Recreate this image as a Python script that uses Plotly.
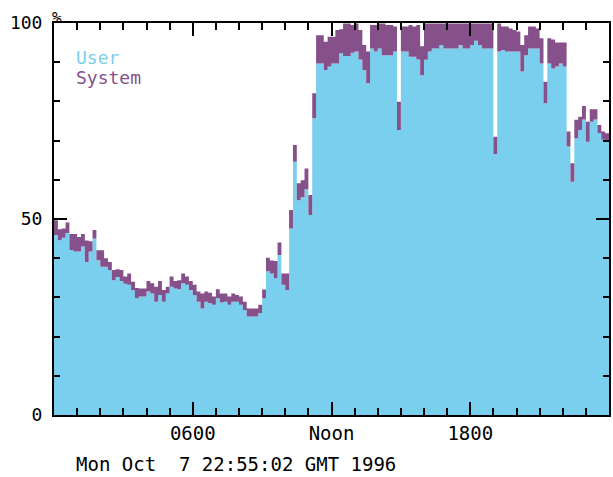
import plotly.graph_objects as go

# 10-minute samples over the day (144 samples)
user = [45.9, 44.6, 45.2, 46.4, 42.1, 41.7, 41.7, 43.0, 39.0, 41.7, 45.0, 39.5,
        37.8, 37.8, 37.0, 34.4, 35.2, 34.2, 33.5, 33.2, 31.8, 29.8, 30.2, 30.2,
        31.5, 31.0, 28.9, 30.6, 28.9, 31.0, 32.7, 32.3, 32.1, 33.6, 33.2, 31.9,
        30.6, 28.9, 27.2, 28.9, 28.5, 28.1, 29.8, 28.7, 28.9, 28.1, 28.9, 28.9,
        28.1, 26.8, 25.1, 25.1, 25.1, 26.0, 29.8, 36.7, 36.1, 34.9, 40.8, 33.2,
        31.9, 47.6, 64.6, 54.8, 55.6, 57.6, 51.0, 75.7, 89.7, 89.7, 88.0, 88.9,
        89.7, 89.7, 92.3, 91.6, 91.6, 92.4, 92.7, 90.7, 88.0, 84.6, 93.5, 92.7,
        93.5, 91.8, 91.8, 91.8, 92.7, 72.7, 92.7, 92.7, 91.4, 91.4, 90.7, 86.7,
        90.6, 92.7, 93.5, 93.5, 94.4, 93.5, 93.5, 93.5, 93.5, 94.4, 93.5, 93.5,
        94.4, 95.5, 94.4, 93.5, 93.5, 93.5, 66.6, 92.7, 93.1, 92.7, 92.7, 92.7,
        92.7, 87.6, 91.8, 93.5, 93.5, 93.5, 89.7, 79.5, 89.7, 88.4, 88.9, 89.7,
        88.9, 68.5, 59.5, 70.6, 72.7, 75.4, 69.7, 74.8, 75.4, 71.9, 70.2, 69.7]

system = [3.8, 2.8, 2.4, 2.7, 4.1, 4.5, 3.7, 3.2, 5.5, 2.6, 2.2, 2.5,
          4.2, 2.2, 2.0, 2.6, 2.0, 2.8, 1.8, 2.9, 2.2, 2.6, 2.1, 2.1,
          2.7, 2.6, 3.8, 3.6, 3.0, 1.7, 2.6, 1.9, 2.3, 2.5, 2.1, 2.3,
          2.6, 2.6, 3.8, 2.6, 2.7, 2.1, 2.3, 2.3, 2.1, 2.1, 2.1, 1.7,
          2.1, 2.1, 2.1, 2.1, 2.1, 2.1, 2.2, 3.4, 3.3, 4.4, 3.2, 2.9,
          4.2, 4.7, 4.3, 4.3, 4.3, 5.3, 5.1, 6.4, 7.2, 7.2, 7.2, 7.6,
          6.8, 8.5, 6.1, 8.3, 8.3, 7.1, 7.2, 7.5, 6.4, 8.1, 6.0, 6.8,
          6.4, 8.1, 7.7, 7.7, 6.4, 7.2, 6.4, 6.4, 8.1, 7.7, 8.8, 7.4,
          9.3, 7.2, 6.4, 6.4, 5.5, 6.4, 6.4, 6.4, 6.4, 5.5, 6.4, 6.4,
          5.5, 4.4, 5.5, 6.4, 6.4, 6.4, 4.4, 7.2, 6.0, 6.4, 5.9, 5.5,
          5.1, 6.8, 5.1, 5.6, 5.6, 5.1, 6.4, 5.5, 6.4, 7.4, 6.1, 5.3,
          6.1, 3.8, 4.7, 4.7, 3.4, 3.4, 5.1, 3.2, 2.6, 2.1, 2.1, 2.2]

tick_hours = [0, 6, 12, 18, 24]
tick_labels = ["", "0600", "Noon", "1800", ""]
series_names = ["User", "System"]
stamp = "Mon Oct \u00a07 22:55:02 GMT 1996"

USER_C = "#7acfee"
SYS_C = "#86508a"
FONT = "DejaVu Sans Mono"

hours = [i / 6 for i in range(len(user))] + [24]
u_vals = user + [user[-1]]
s_vals = system + [system[-1]]

fig = go.Figure()
fig.add_trace(go.Scatter(x=hours, y=u_vals, name=series_names[0], stackgroup="one",
                         mode="lines", line=dict(shape="hv", width=0, color=USER_C),
                         fillcolor=USER_C))
fig.add_trace(go.Scatter(x=hours, y=s_vals, name=series_names[1], stackgroup="one",
                         mode="lines", line=dict(shape="hv", width=0, color=SYS_C),
                         fillcolor=SYS_C))

fig.update_layout(
    width=613, height=477,
    margin=dict(l=54, r=2, t=23, b=62),
    paper_bgcolor="white", plot_bgcolor="white",
    showlegend=False,
    font=dict(family=FONT, size=18, color="black"),
)
fig.update_xaxes(
    range=[0, 24], showgrid=False, zeroline=False,
    tickmode="linear", tick0=0, dtick=6,
    labelalias={str(h): t for h, t in zip(tick_hours, tick_labels)},
    ticks="inside", ticklen=13, tickwidth=2, tickcolor="black",
    minor=dict(tick0=0, dtick=1, ticks="inside", ticklen=7, tickwidth=2,
               tickcolor="black", showgrid=False),
    showline=True, linecolor="black", linewidth=2, mirror="allticks",
    tickfont=dict(family=FONT, size=19, color="black"),
)
fig.update_yaxes(
    range=[0, 100], showgrid=False, zeroline=False,
    tickmode="linear", tick0=0, dtick=50,
    ticks="inside", ticklen=13, tickwidth=2, tickcolor="black",
    minor=dict(tick0=0, dtick=10, ticks="inside", ticklen=6, tickwidth=2,
               tickcolor="black", showgrid=False),
    showline=True, linecolor="black", linewidth=2, mirror="allticks",
    tickfont=dict(family=FONT, size=18, color="black"),
    ticklabelstandoff=6,
)

fig.add_annotation(text="%", xref="paper", yref="paper", x=0, y=1, xanchor="left", yanchor="bottom",
                   showarrow=False, font=dict(family=FONT, size=16, color="black"), xshift=-4, yshift=-6)
fig.add_annotation(text=series_names[0], xref="paper", yref="paper", x=(74 - 54) / 557, y=(415 - 57) / 392,
                   xanchor="left", yanchor="middle", showarrow=False,
                   font=dict(family=FONT, size=18, color=USER_C))
fig.add_annotation(text=series_names[1], xref="paper", yref="paper", x=(74 - 54) / 557, y=(415 - 77) / 392,
                   xanchor="left", yanchor="middle", showarrow=False,
                   font=dict(family=FONT, size=18, color=SYS_C))
fig.add_annotation(text=stamp, xref="paper", yref="paper", x=(74 - 54) / 557, y=(415 - 464) / 392,
                   xanchor="left", yanchor="middle", showarrow=False,
                   font=dict(family=FONT, size=19, color="black"))

fig.write_html("out.html")
